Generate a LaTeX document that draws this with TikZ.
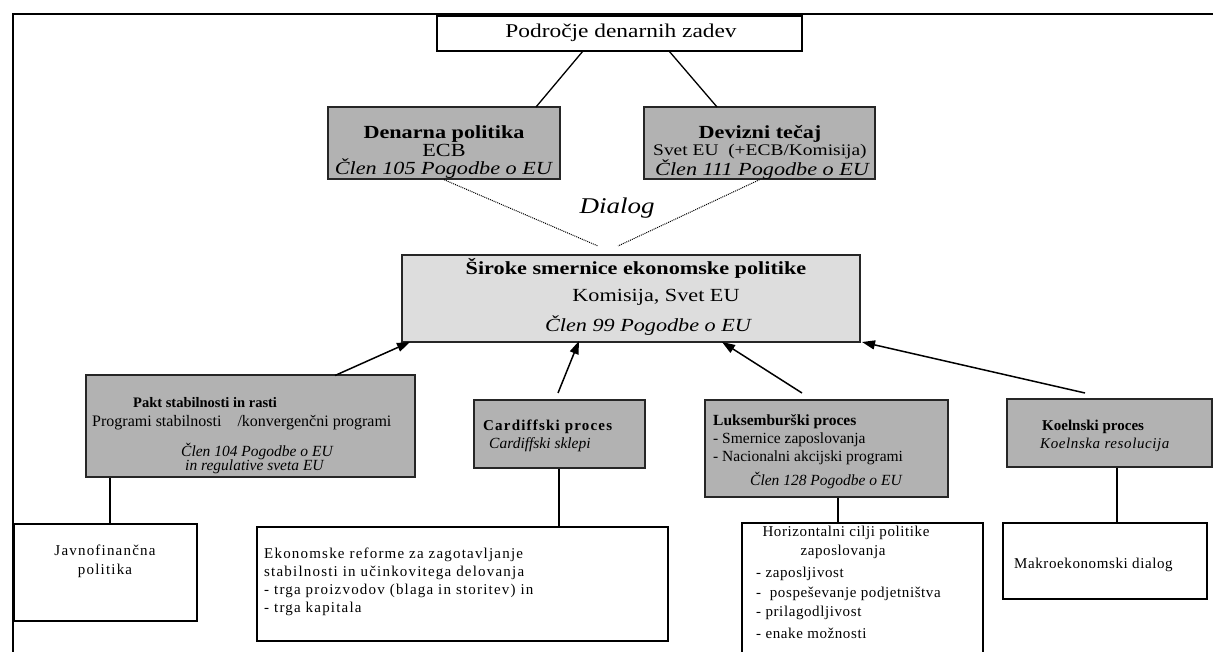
\documentclass[tikz,border=0pt]{standalone}
\usepackage{fontspec}
\setmainfont{Liberation Serif}
\newfontfamily\wide[FakeStretch=1.2]{Liberation Serif}
\newfontfamily\spc[LetterSpace=8]{Liberation Serif}
\newfontfamily\spl[LetterSpace=4]{Liberation Serif}
\usetikzlibrary{arrows.meta}
\definecolor{boxgray}{RGB}{178,178,178}
\definecolor{lightbox}{RGB}{221,221,221}
\begin{document}
\begin{tikzpicture}[x=1pt,y=-1pt,
  wbox/.style={draw=black,line width=1.1pt,fill=white,inner sep=0pt},
  gbox/.style={draw=black!85,line width=1.4pt,fill=boxgray,inner sep=0pt},
  cbox/.style={draw=black!85,line width=1.4pt,fill=lightbox,inner sep=0pt},
  tbig/.style={inner sep=0pt,font=\wide\fontsize{18.5}{18}\selectfont},
  tsm/.style={inner sep=0pt,font=\fontsize{15.5}{15}\selectfont},
  tl/.style={tsm,anchor=west},
  tc/.style={tsm,anchor=center},
  tli/.style={tl,font=\fontsize{15.5}{15}\selectfont\itshape},
  link/.style={line width=1.3pt},
  arr/.style={line width=1.5pt,-{Triangle[length=13pt,width=9pt]}},
  dots/.style={line width=1pt,densely dotted}]
\useasboundingbox (0,0) rectangle (1213,652);
\clip (0,0) rectangle (1213,652);
% frame
\node[draw,line width=2pt,minimum width=1300pt,minimum height=700pt,anchor=north west,inner sep=0pt] (frame) at (12,13) {};
% boxes
\node[wbox,minimum width=365pt,minimum height=35pt] (top) at (619.5,33.5) {};
\node[gbox,minimum width=232pt,minimum height=72pt] (den) at (444,143) {};
\node[gbox,minimum width=231pt,minimum height=72pt] (dev) at (759.5,143) {};
\node[cbox,minimum width=458pt,minimum height=87pt] (cen) at (631,298.5) {};
\node[gbox,minimum width=329pt,minimum height=102pt] (pakt) at (250.5,426) {};
\node[gbox,minimum width=171pt,minimum height=68pt] (card) at (559.5,434) {};
\node[gbox,minimum width=243pt,minimum height=97pt] (luks) at (826.5,448.5) {};
\node[gbox,minimum width=205pt,minimum height=68pt] (koel) at (1109.5,433) {};
\node[wbox,minimum width=183pt,minimum height=97pt] (jav) at (105.5,572.5) {};
\node[wbox,minimum width=411pt,minimum height=114pt] (eko) at (462.5,584) {};
\node[wbox,minimum width=241pt,minimum height=140pt] (hor) at (862.5,593) {};
\node[wbox,minimum width=204pt,minimum height=76pt] (mak) at (1105,561) {};
% texts
\node[tbig,font=\wide\fontsize{19.5}{20}\selectfont] (ttop) at (621,33) {Področje denarnih zadev};
\node[tbig,align=center] (tden) at (444,152) {\textbf{Denarna politika}\\ECB\\\textit{Člen 105 Pogodbe o EU}};
\node[tbig] (tdev1) at (760,134) {\textbf{Devizni tečaj}};
\node[tbig,anchor=west,font=\wide\fontsize{16.2}{18}\selectfont] (tdev2) at (653,152) {Svet EU\ \ (+ECB/Komisija)};
\node[tbig,anchor=west,font=\wide\fontsize{18.5}{18}\selectfont\itshape] (tdev3) at (655,170) {Člen 111 Pogodbe o EU};
\node[tbig,font=\wide\fontsize{22.5}{24}\selectfont\itshape] (tdia) at (617,208) {Dialog};
\node[tbig] (tcen1) at (636,268) {\textbf{Široke smernice ekonomske politike}};
\node[tbig] (tcen2) at (656,297) {Komisija, Svet EU};
\node[tbig,font=\wide\fontsize{18.5}{18}\selectfont\itshape] (tcen3) at (648,326) {Člen 99 Pogodbe o EU};
% pakt
\node[tl,font=\fontsize{14.5}{15}\selectfont\bfseries] (p1) at (133,403) {Pakt stabilnosti in rasti};
\node[tl,font=\fontsize{16}{15}\selectfont] (p2) at (92,423) {Programi stabilnosti\hspace{16pt}/konvergenčni programi};
\node[tli] (p3) at (181,451) {Člen 104 Pogodbe o EU};
\node[tli] (p4) at (185,467) {in regulative sveta EU};
% cardiff
\node[tl,font=\fontsize{15}{15}\spc\bfseries] (c1) at (483,427) {Cardiffski proces};
\node[tli] (c2) at (489,445) {Cardiffski sklepi};
% luks
\node[tl,font=\fontsize{15.5}{15}\selectfont\bfseries] (l1) at (713,422) {Luksemburški proces};
\node[tl] (l2) at (713,440) {- Smernice zaposlovanja};
\node[tl] (l3) at (713,458) {- Nacionalni akcijski programi};
\node[tli] (l4) at (750,480) {Člen 128 Pogodbe o EU};
% koeln
\node[tl,font=\fontsize{15}{15}\selectfont\bfseries] (k1) at (1042,427) {Koelnski proces};
\node[tli,font=\fontsize{15}{15}\spl\itshape] (k2) at (1040,445) {Koelnska resolucija};
% javno
\node[tc,font=\fontsize{15}{15}\spc] (j1) at (105,550) {Javnofinančna};
\node[tc,font=\fontsize{15}{15}\spc] (j2) at (105,571) {politika};
% ekonomske
\node[tl,font=\fontsize{15}{15}\spc] (e1) at (264,555) {Ekonomske reforme za zagotavljanje};
\node[tl,font=\fontsize{15}{15}\spc] (e2) at (264,573) {stabilnosti in učinkovitega delovanja};
\node[tl,font=\fontsize{15}{15}\spc] (e3) at (264,591) {- trga proizvodov (blaga in storitev) in};
\node[tl,font=\fontsize{15}{15}\spc] (e4) at (264,609) {- trga kapitala};
% horizontal
\node[tc,font=\fontsize{15}{15}\spl] (h1) at (846,533) {Horizontalni cilji politike};
\node[tc,font=\fontsize{15}{15}\spl] (h2) at (843,552) {zaposlovanja};
\node[tl,font=\fontsize{15}{15}\spl] (h3) at (756,574) {- zaposljivost};
\node[tl,font=\fontsize{15}{15}\spl] (h4) at (756,594) {-\ \ pospeševanje podjetništva};
\node[tl,font=\fontsize{15}{15}\spl] (h5) at (756,613) {- prilagodljivost};
\node[tl,font=\fontsize{15}{15}\spl] (h6) at (756,633) {- enake možnosti};
% makro
\node[tl,font=\fontsize{15}{15}\spl] (m1) at (1014,565) {Makroekonomski dialog};
% connector coordinates
\coordinate (dl) at (598,246);
\coordinate (dr) at (618,246);
\coordinate (aP0) at (335,375.5);
\coordinate (aP1) at (410,342);
\coordinate (aC0) at (558,393);
\coordinate (aC1) at (579,341);
\coordinate (aL0) at (802,393);
\coordinate (aL1) at (722,342);
\coordinate (aK0) at (1085,393);
\coordinate (aK1) at (862,342);
% connectors
\draw[link] (583,51) -- (536,107);
\draw[link] (669,51) -- (717,107);
\draw[dots] (den.south) -- (dl);
\draw[dots] (dev.south) -- (dr);
\draw[arr] (aP0) -- (aP1);
\draw[arr] (aC0) -- (aC1);
\draw[arr] (aL0) -- (aL1);
\draw[arr] (aK0) -- (aK1);
\draw[link] (pakt.south -| 110,0) -- (jav.north -| 110,0);
\draw[link] (card.south -| 559,0) -- (eko.north -| 559,0);
\draw[link] (luks.south -| 838,0) -- (hor.north -| 838,0);
\draw[link] (koel.south -| 1117,0) -- (mak.north -| 1117,0);
\end{tikzpicture}
\end{document}
